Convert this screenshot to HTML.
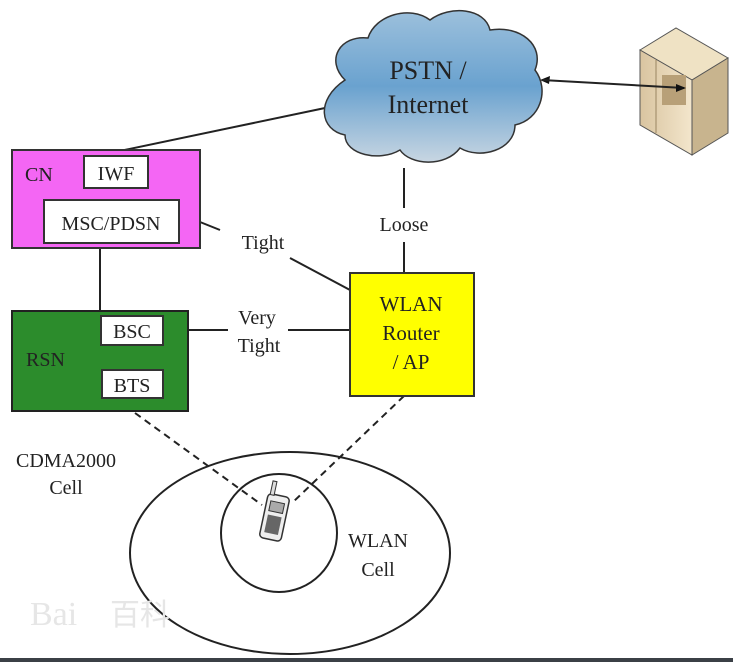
<!DOCTYPE html>
<html><head><meta charset="utf-8"><style>
html,body{margin:0;padding:0;background:#fff;}
svg{display:block}
text{font-family:"Liberation Serif",serif;fill:#222;}
</style></head><body>
<svg width="733" height="662" viewBox="0 0 733 662">
<defs>
<linearGradient id="cl" x1="0" y1="0" x2="0" y2="1"><stop offset="0" stop-color="#9cc0dc"/><stop offset="0.5" stop-color="#6aa2cf"/><stop offset="1" stop-color="#c8d6e2"/></linearGradient>
<linearGradient id="sv" x1="0" y1="0" x2="1" y2="0"><stop offset="0" stop-color="#d9c4a0"/><stop offset="1" stop-color="#f3e6cc"/></linearGradient>
</defs>
<g stroke="#222" stroke-width="2" fill="none">
<line x1="325" y1="108" x2="115" y2="152"/>
<line x1="404" y1="168" x2="404" y2="208"/>
<line x1="404" y1="242" x2="404" y2="272"/>
<line x1="180" y1="214" x2="220" y2="230"/>
<line x1="290" y1="258" x2="350" y2="290"/>
<line x1="163" y1="330" x2="228" y2="330"/>
<line x1="288" y1="330" x2="350" y2="330"/>
<line x1="100" y1="248" x2="100" y2="311"/>
<line x1="132" y1="345" x2="132" y2="370"/>
</g>
<polygon points="540,80 550,76 549,84" fill="#111"/>
<path d="M345,80 C325,60 340,35 368,38 C375,15 410,5 430,20 C450,5 485,8 490,30 C520,25 545,45 535,70 C550,90 540,120 515,125 C515,150 480,160 460,148 C445,168 410,165 400,150 C380,162 345,155 345,135 C320,130 315,100 345,80 Z" fill="url(#cl)" stroke="#333" stroke-width="1.5"/>
<text x="428" y="79" font-size="26" text-anchor="middle">PSTN /</text>
<text x="428" y="113" font-size="26" text-anchor="middle">Internet</text>
<polygon points="640,50 676,28 728,58 692,80" fill="#efe2c4" stroke="#555"/>
<polygon points="640,50 692,80 692,155 640,125" fill="url(#sv)" stroke="#555"/>
<polygon points="692,80 728,58 728,133 692,155" fill="#c8b48e" stroke="#555"/>
<line x1="656" y1="60" x2="656" y2="133" stroke="#9a8662"/>
<rect x="662" y="75" width="24" height="30" fill="#b8a078"/>
<g stroke="#222" stroke-width="2"><line x1="542" y1="80" x2="684" y2="88"/></g>
<polygon points="686,88 676,84 676,92" fill="#111"/>
<g stroke="#222" stroke-width="2" fill="none" stroke-dasharray="7,5">
<line x1="135" y1="413" x2="262" y2="505"/>
<line x1="404" y1="396" x2="292" y2="503"/>
</g>
<rect x="12" y="150" width="188" height="98" fill="#f466f4" stroke="#333" stroke-width="2"/>
<text x="25" y="181" font-size="20">CN</text>
<rect x="84" y="156" width="64" height="32" fill="#fff" stroke="#333" stroke-width="2"/>
<text x="116" y="180" font-size="20" text-anchor="middle">IWF</text>
<rect x="44" y="200" width="135" height="43" fill="#fff" stroke="#333" stroke-width="2"/>
<text x="111" y="230" font-size="20" text-anchor="middle">MSC/PDSN</text>
<rect x="12" y="311" width="176" height="100" fill="#2c8c2c" stroke="#222" stroke-width="2"/>
<text x="26" y="366" font-size="20">RSN</text>
<rect x="101" y="316" width="62" height="29" fill="#fff" stroke="#333" stroke-width="2"/>
<text x="132" y="338" font-size="20" text-anchor="middle">BSC</text>
<rect x="102" y="370" width="61" height="28" fill="#fff" stroke="#333" stroke-width="2"/>
<text x="132" y="392" font-size="20" text-anchor="middle">BTS</text>
<rect x="350" y="273" width="124" height="123" fill="#ffff00" stroke="#333" stroke-width="2"/>
<text x="411" y="311" font-size="21" text-anchor="middle">WLAN</text>
<text x="411" y="340" font-size="21" text-anchor="middle">Router</text>
<text x="411" y="369" font-size="21" text-anchor="middle">/ AP</text>
<text x="404" y="231" font-size="20" text-anchor="middle">Loose</text>
<text x="263" y="249" font-size="20" text-anchor="middle">Tight</text>
<text x="257" y="324" font-size="20" text-anchor="middle">Very</text>
<text x="259" y="352" font-size="20" text-anchor="middle">Tight</text>
<text x="66" y="467" font-size="20" text-anchor="middle">CDMA2000</text>
<text x="66" y="494" font-size="20" text-anchor="middle">Cell</text>
<text x="378" y="547" font-size="20" text-anchor="middle">WLAN</text>
<text x="378" y="576" font-size="20" text-anchor="middle">Cell</text>
<ellipse cx="290" cy="553" rx="160" ry="101" fill="none" stroke="#222" stroke-width="2"/>
<ellipse cx="279" cy="533" rx="58" ry="59" fill="none" stroke="#222" stroke-width="2"/>
<g transform="rotate(12 275 515)">
<rect x="264" y="495" width="22" height="45" rx="4" fill="#eee" stroke="#333" stroke-width="1.5"/>
<rect x="266" y="482" width="4" height="14" fill="#ddd" stroke="#333"/>
<rect x="268" y="502" width="14" height="10" fill="#aaa" stroke="#333"/>
<rect x="268" y="516" width="14" height="18" fill="#666"/>
</g>
<text x="30" y="625" font-size="34" style="fill:#e6e6e6" font-family="Liberation Sans">Bai</text>
<text x="110" y="625" font-size="30" style="fill:#e6e6e6" font-family="Noto Sans CJK SC,sans-serif">百科</text>
<rect x="0" y="658" width="733" height="4" fill="#3b4046"/>
</svg>
</body></html>
